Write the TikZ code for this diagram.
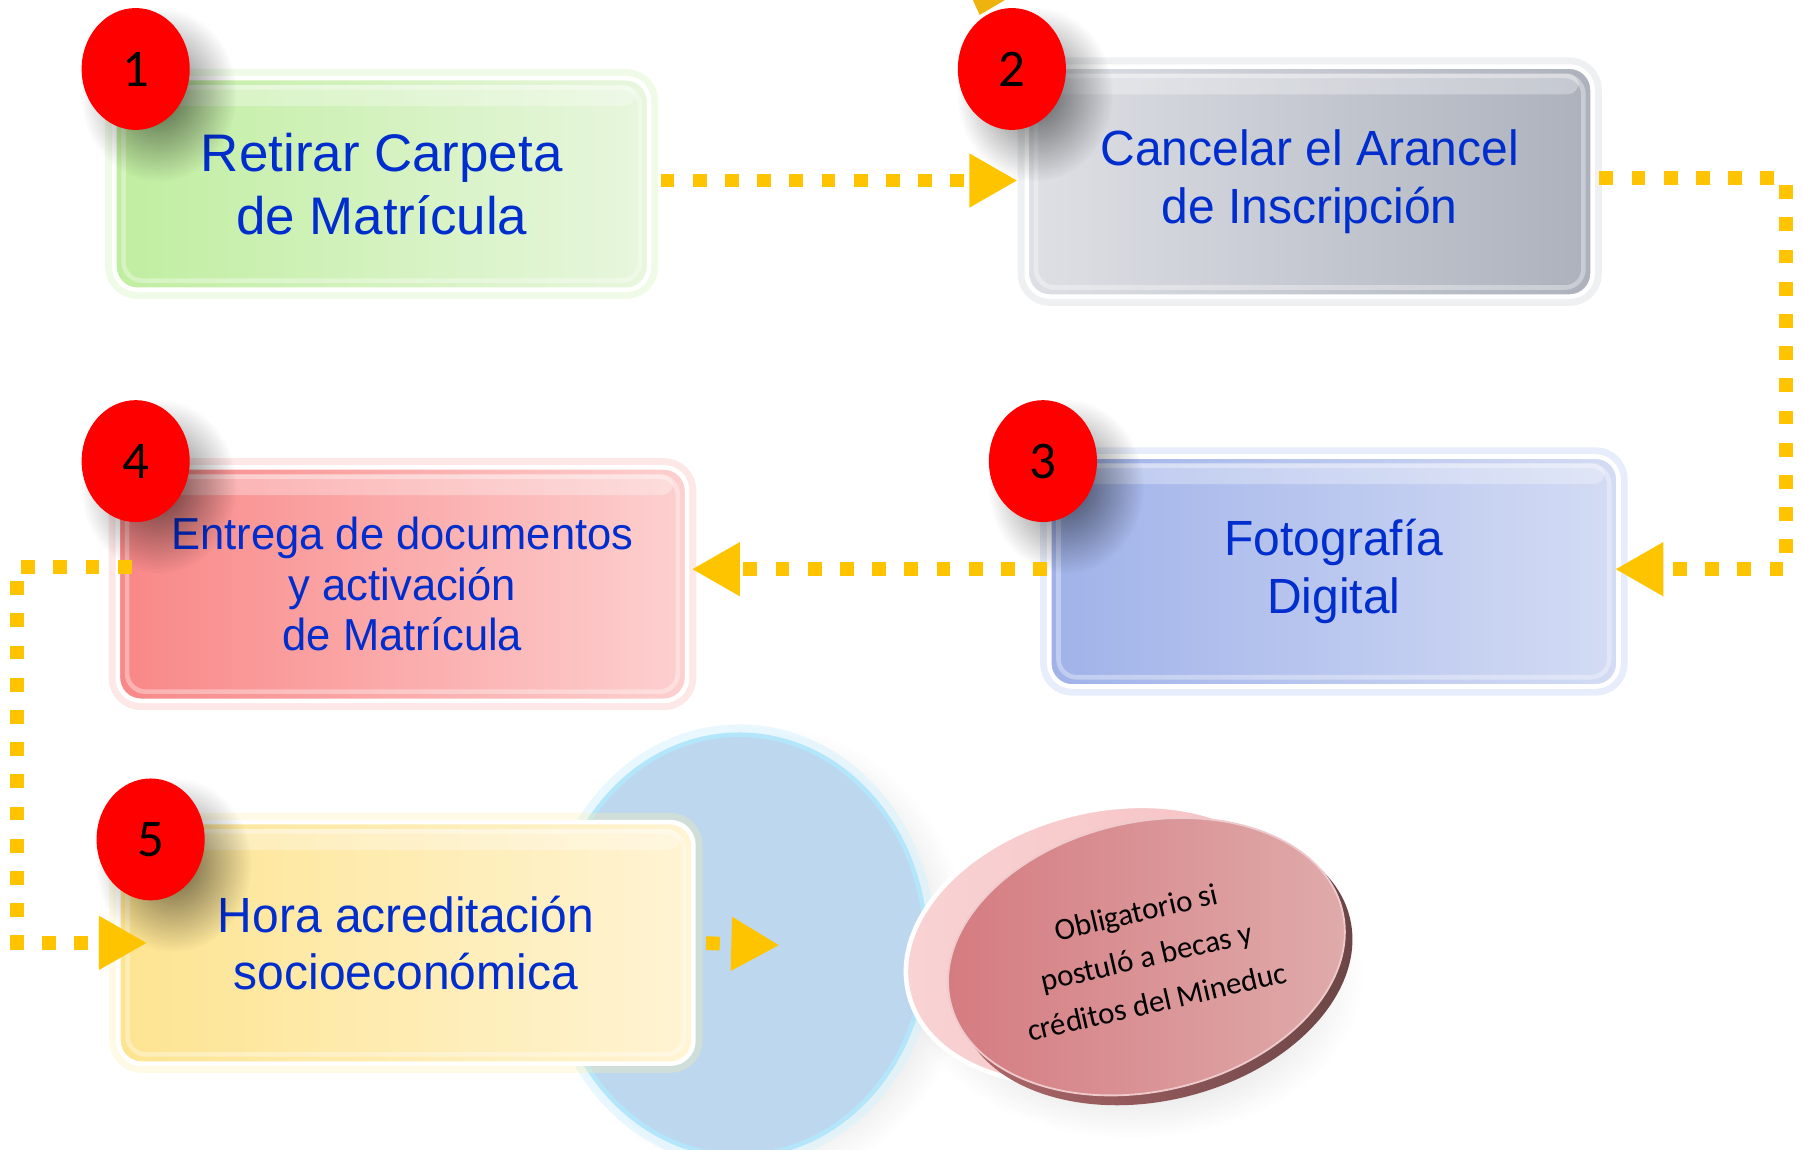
\documentclass[tikz,border=0pt]{standalone}
\usepackage{fontspec}
\setmainfont{Liberation Sans}
\newfontfamily\boxfont[FakeStretch=0.97]{Liberation Sans}
\newfontfamily\boxwide{Liberation Sans}
\newfontfamily\calib{Carlito}
\usetikzlibrary{shapes.geometric,arrows.meta,fadings}
\definecolor{arrowyellow}{RGB}{255,196,0}
\definecolor{txtblue}{RGB}{0,45,205}
\definecolor{gA}{RGB}{192,238,160}\definecolor{gB}{RGB}{232,246,222}\definecolor{gH}{RGB}{205,242,175}
\definecolor{sA}{RGB}{222,224,229}\definecolor{sB}{RGB}{172,177,188}\definecolor{sH}{RGB}{200,204,212}
\definecolor{lA}{RGB}{160,178,233}\definecolor{lB}{RGB}{212,220,244}\definecolor{lH}{RGB}{175,195,240}
\definecolor{rA}{RGB}{249,135,135}\definecolor{rB}{RGB}{253,208,208}\definecolor{rH}{RGB}{250,175,175}
\definecolor{yA}{RGB}{253,228,145}\definecolor{yB}{RGB}{255,244,212}\definecolor{yH}{RGB}{252,240,170}
\definecolor{bluecirc}{RGB}{189,215,238}
\definecolor{pinkback}{RGB}{246,192,194}
\definecolor{pinkA}{RGB}{212,122,127}
\definecolor{pinkB}{RGB}{224,172,172}
\definecolor{rimdark}{RGB}{105,68,68}
\tikzfading[name=softfade, inner color=transparent!0, outer color=transparent!100]
\begin{document}
\begin{tikzpicture}[x=0.5pt,y=-0.5pt,
  stepbox/.style n args={3}{rectangle, rounded corners=10pt, draw=white, line width=2pt,
    left color=#1, right color=#2, preaction={draw=#3, line width=8pt, opacity=0.3},
    align=center, text=txtblue, inner sep=0pt},
  numdot/.style={ellipse, fill=red, minimum width=47pt, minimum height=53pt, inner sep=0pt,
    font=\calib\fontsize{23}{23}\selectfont, text=black},
  flow/.style={draw=arrowyellow, line width=6pt, dash pattern=on 6pt off 8pt,
    -{Triangle[length=21pt,width=22pt]}},
]
\useasboundingbox (0,0) rectangle (1568,1000);

% blue circle
\fill[black, opacity=0.35, path fading=softfade] (662,830) ellipse [x radius=182, y radius=200];
\node[ellipse, fill=bluecirc, draw=white!70!cyan, line width=2pt, preaction={draw=cyan!15, line width=9pt, opacity=0.6},
  minimum width=162pt, minimum height=183pt] (e1) at (643,822) {};

% pink ellipses
\fill[black, opacity=0.3, path fading=softfade] (985,850) ellipse [x radius=200, y radius=140];
\fill[left color=pinkback!70!white, right color=pinkback, draw=white, line width=2pt, rotate around={14:(960,822)}] (960,822) ellipse [x radius=175, y radius=117];
\shade[left color=pinkA!70!rimdark, right color=rimdark, rotate around={14:(1004,840)}] (1004,840) ellipse [x radius=175, y radius=117];
\node[ellipse, rotate=13, minimum width=175pt, minimum height=117pt, inner sep=0pt,
  left color=pinkA, right color=pinkB, draw=white!60!pinkA, line width=0.8pt,
  align=center, font=\calib\fontsize{13.5}{20}\selectfont, text=black] (ep) at (997,832)
  {Obligatorio si\\postuló a becas y\\créditos del Mineduc};

% boxes
\node[stepbox={gA}{gB}{gH}, minimum width=232.5pt, minimum height=92pt,
  font=\boxwide\fontsize{23}{27.5}\selectfont] (b1) at (332,160) {Retirar Carpeta\\de Matrícula};
\node[stepbox={sA}{sB}{sH}, minimum width=246pt, minimum height=100pt,
  font=\boxfont\fontsize{21.5}{25}\selectfont] (b2) at (1139,158) {Cancelar el Arancel\\de Inscripción};
\node[stepbox={lA}{lB}{lH}, minimum width=247.5pt, minimum height=100pt,
  font=\boxfont\fontsize{21.5}{25}\selectfont] (b3) at (1160,497) {Fotografía\\Digital};
\node[stepbox={rA}{rB}{rH}, minimum width=247.5pt, minimum height=101.5pt,
  font=\boxfont\fontsize{19.5}{22}\selectfont] (b4) at (350,508) {Entrega de documentos\\y activación\\de Matrícula};
\node[stepbox={yA}{yB}{yH}, minimum width=250pt, minimum height=105pt,
  font=\boxfont\fontsize{21.5}{25}\selectfont] (b5) at (353,820) {Hora acreditación\\socioeconómica};

\foreach \n in {b1,b2,b3,b4,b5}{
  \draw[white, opacity=0.35, line width=2pt, rounded corners=8pt]
    ([shift={(5pt,-5pt)}]\n.north west) rectangle ([shift={(-5pt,5pt)}]\n.south east);
  \fill[white, opacity=0.3, rounded corners=5pt]
    ([shift={(7pt,-4pt)}]\n.north west) rectangle ([shift={(-7pt,-13pt)}]\n.north east);
}

% number circles
\foreach \x/\y/\t/\l in {118/60/c1/1,880/60/c2/2,907/401/c3/3,118/401/c4/4,131/730/c5/5}{
  \fill[black, opacity=0.6, path fading=softfade] ([shift={(10pt,-11pt)}]\x,\y) ellipse [x radius=34pt, y radius=38pt];
  \node[numdot] (\t) at (\x,\y) {\l};
}

% small golden tip at top
\fill[arrowyellow!75!brown] (846,0) -- (874,0) -- (852,13) -- cycle;

% connectors
\coordinate (k23) at (1553,330);
\coordinate (k45) at (15,650);
\coordinate (k5) at (678,822);
\draw[flow, shorten <=4pt, shorten >=3pt] ([yshift=1.5pt]b1.east) -- ([yshift=1.5pt]b1.east -| b2.west);
\draw[flow, shorten <=2pt, shorten >=-2.5pt] ([yshift=1.5pt]b2.east) -| (k23) |- ([yshift=1pt]b3.east);
\draw[flow, shorten >=1pt] ([yshift=1pt]b3.west) -- ([yshift=1pt]b3.west -| b4.east);
\draw[flow, shorten <=-7pt, shorten >=-13.5pt] ([yshift=7.5pt]b4.west) -| (k45) |- (b5.west);
\draw[flow, shorten <=4.5pt] (b5.east) -- (k5);
\end{tikzpicture}
\end{document}
